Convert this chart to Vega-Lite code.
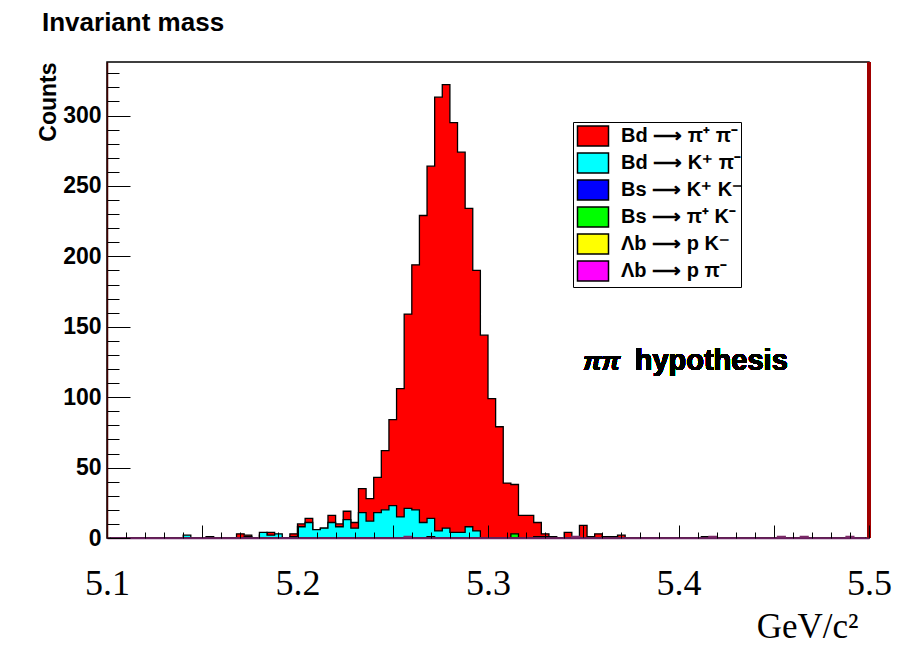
{
  "$schema": "https://vega.github.io/schema/vega-lite/v6.json",
  "width": 762,
  "height": 476,
  "autosize": "none",
  "padding": {"left": 107, "top": 62, "right": 44, "bottom": 107},
  "background": "white",
  "title": {"text": "Invariant mass", "anchor": "start", "frame": "group", "dx": -65, "offset": 4, "baseline": "alphabetic", "font": "Liberation Sans", "fontSize": 26, "fontWeight": "bold", "color": "black"},
  "config": {"view": {"stroke": "black", "strokeWidth": 1.5}},
  "resolve": {"axis": {"x": "independent", "y": "independent"}},
  "data": {"values": [
    {"m": 5.102, "bdpipi": 0, "bdkpi": 0, "bskk": 0, "bspik": 0, "lbpk": 0, "lbppi": 0},
    {"m": 5.106, "bdpipi": 0, "bdkpi": 0, "bskk": 0, "bspik": 0, "lbpk": 0, "lbppi": 0},
    {"m": 5.110, "bdpipi": 0, "bdkpi": 0, "bskk": 0, "bspik": 0, "lbpk": 0, "lbppi": 0},
    {"m": 5.114, "bdpipi": 0, "bdkpi": 0, "bskk": 0, "bspik": 0, "lbpk": 0, "lbppi": 0},
    {"m": 5.118, "bdpipi": 0, "bdkpi": 0, "bskk": 0, "bspik": 0, "lbpk": 0, "lbppi": 0},
    {"m": 5.122, "bdpipi": 0, "bdkpi": 0, "bskk": 0, "bspik": 0, "lbpk": 0, "lbppi": 0},
    {"m": 5.126, "bdpipi": 0, "bdkpi": 0, "bskk": 0, "bspik": 0, "lbpk": 0, "lbppi": 0},
    {"m": 5.130, "bdpipi": 0, "bdkpi": 0, "bskk": 0, "bspik": 0, "lbpk": 0, "lbppi": 0},
    {"m": 5.134, "bdpipi": 0, "bdkpi": 0, "bskk": 0, "bspik": 0, "lbpk": 0, "lbppi": 0},
    {"m": 5.138, "bdpipi": 0, "bdkpi": 0, "bskk": 0, "bspik": 0, "lbpk": 0, "lbppi": 0},
    {"m": 5.142, "bdpipi": 0, "bdkpi": 2, "bskk": 0, "bspik": 0, "lbpk": 0, "lbppi": 0},
    {"m": 5.146, "bdpipi": 0, "bdkpi": 0, "bskk": 0, "bspik": 0, "lbpk": 0, "lbppi": 0},
    {"m": 5.150, "bdpipi": 0, "bdkpi": 0, "bskk": 0, "bspik": 0, "lbpk": 0, "lbppi": 0},
    {"m": 5.154, "bdpipi": 0, "bdkpi": 0, "bskk": 1, "bspik": 0, "lbpk": 0, "lbppi": 0},
    {"m": 5.158, "bdpipi": 0, "bdkpi": 0, "bskk": 0, "bspik": 0, "lbpk": 0, "lbppi": 0},
    {"m": 5.162, "bdpipi": 0, "bdkpi": 0, "bskk": 0, "bspik": 0, "lbpk": 0, "lbppi": 0},
    {"m": 5.166, "bdpipi": 0, "bdkpi": 0, "bskk": 0, "bspik": 0, "lbpk": 0, "lbppi": 0},
    {"m": 5.170, "bdpipi": 3, "bdkpi": 0, "bskk": 0, "bspik": 0, "lbpk": 0, "lbppi": 0},
    {"m": 5.174, "bdpipi": 2, "bdkpi": 1, "bskk": 0, "bspik": 0, "lbpk": 0, "lbppi": 0},
    {"m": 5.178, "bdpipi": 0, "bdkpi": 0, "bskk": 0, "bspik": 0, "lbpk": 0, "lbppi": 0},
    {"m": 5.182, "bdpipi": 2, "bdkpi": 4, "bskk": 0, "bspik": 0, "lbpk": 0, "lbppi": 0},
    {"m": 5.186, "bdpipi": 4, "bdkpi": 2, "bskk": 0, "bspik": 0, "lbpk": 0, "lbppi": 0},
    {"m": 5.190, "bdpipi": 1, "bdkpi": 3, "bskk": 0, "bspik": 0, "lbpk": 0, "lbppi": 0},
    {"m": 5.194, "bdpipi": 0, "bdkpi": 0, "bskk": 0, "bspik": 0, "lbpk": 0, "lbppi": 0},
    {"m": 5.198, "bdpipi": 3, "bdkpi": 1, "bskk": 0, "bspik": 0, "lbpk": 0, "lbppi": 0},
    {"m": 5.202, "bdpipi": 10, "bdkpi": 8, "bskk": 0, "bspik": 0, "lbpk": 0, "lbppi": 0},
    {"m": 5.206, "bdpipi": 14, "bdkpi": 11, "bskk": 0, "bspik": 0, "lbpk": 0, "lbppi": 0},
    {"m": 5.210, "bdpipi": 6, "bdkpi": 6, "bskk": 0, "bspik": 0, "lbpk": 0, "lbppi": 0},
    {"m": 5.214, "bdpipi": 7, "bdkpi": 7, "bskk": 0, "bspik": 0, "lbpk": 0, "lbppi": 0},
    {"m": 5.218, "bdpipi": 16, "bdkpi": 11, "bskk": 0, "bspik": 0, "lbpk": 0, "lbppi": 0},
    {"m": 5.222, "bdpipi": 10, "bdkpi": 8, "bskk": 0, "bspik": 0, "lbpk": 0, "lbppi": 0},
    {"m": 5.226, "bdpipi": 19, "bdkpi": 13, "bskk": 0, "bspik": 0, "lbpk": 0, "lbppi": 0},
    {"m": 5.230, "bdpipi": 11, "bdkpi": 7, "bskk": 0, "bspik": 0, "lbpk": 0, "lbppi": 0},
    {"m": 5.234, "bdpipi": 35, "bdkpi": 18, "bskk": 0, "bspik": 0, "lbpk": 0, "lbppi": 0},
    {"m": 5.238, "bdpipi": 28, "bdkpi": 12, "bskk": 0, "bspik": 0, "lbpk": 0, "lbppi": 0},
    {"m": 5.242, "bdpipi": 43, "bdkpi": 18, "bskk": 0, "bspik": 0, "lbpk": 0, "lbppi": 0},
    {"m": 5.246, "bdpipi": 62, "bdkpi": 20, "bskk": 0, "bspik": 0, "lbpk": 0, "lbppi": 0},
    {"m": 5.250, "bdpipi": 84, "bdkpi": 23, "bskk": 0, "bspik": 0, "lbpk": 0, "lbppi": 0},
    {"m": 5.254, "bdpipi": 106, "bdkpi": 15, "bskk": 0, "bspik": 0, "lbpk": 0, "lbppi": 0},
    {"m": 5.258, "bdpipi": 159, "bdkpi": 21, "bskk": 0, "bspik": 0, "lbpk": 0, "lbppi": 1},
    {"m": 5.262, "bdpipi": 194, "bdkpi": 20, "bskk": 0, "bspik": 0, "lbpk": 0, "lbppi": 0},
    {"m": 5.266, "bdpipi": 229, "bdkpi": 11, "bskk": 0, "bspik": 0, "lbpk": 0, "lbppi": 0},
    {"m": 5.270, "bdpipi": 264, "bdkpi": 14, "bskk": 1, "bspik": 0, "lbpk": 0, "lbppi": 0},
    {"m": 5.274, "bdpipi": 313, "bdkpi": 5, "bskk": 0, "bspik": 0, "lbpk": 0, "lbppi": 0},
    {"m": 5.278, "bdpipi": 322, "bdkpi": 7, "bskk": 0, "bspik": 0, "lbpk": 0, "lbppi": 0},
    {"m": 5.282, "bdpipi": 295, "bdkpi": 4, "bskk": 0, "bspik": 0, "lbpk": 0, "lbppi": 0},
    {"m": 5.286, "bdpipi": 274, "bdkpi": 4, "bskk": 0, "bspik": 0, "lbpk": 0, "lbppi": 0},
    {"m": 5.290, "bdpipi": 234, "bdkpi": 8, "bskk": 0, "bspik": 0, "lbpk": 0, "lbppi": 0},
    {"m": 5.294, "bdpipi": 190, "bdkpi": 5, "bskk": 0, "bspik": 0, "lbpk": 0, "lbppi": 0},
    {"m": 5.298, "bdpipi": 144, "bdkpi": 0, "bskk": 0, "bspik": 0, "lbpk": 0, "lbppi": 0},
    {"m": 5.302, "bdpipi": 99, "bdkpi": 0, "bskk": 0, "bspik": 0, "lbpk": 0, "lbppi": 0},
    {"m": 5.306, "bdpipi": 79, "bdkpi": 0, "bskk": 0, "bspik": 0, "lbpk": 0, "lbppi": 0},
    {"m": 5.310, "bdpipi": 39, "bdkpi": 0, "bskk": 0, "bspik": 0, "lbpk": 0, "lbppi": 0},
    {"m": 5.314, "bdpipi": 38, "bdkpi": 0, "bskk": 0, "bspik": 3, "lbpk": 0, "lbppi": 0},
    {"m": 5.318, "bdpipi": 16, "bdkpi": 0, "bskk": 0, "bspik": 0, "lbpk": 0, "lbppi": 0},
    {"m": 5.322, "bdpipi": 16, "bdkpi": 0, "bskk": 0, "bspik": 0, "lbpk": 0, "lbppi": 0},
    {"m": 5.326, "bdpipi": 11, "bdkpi": 0, "bskk": 0, "bspik": 1, "lbpk": 0, "lbppi": 0},
    {"m": 5.330, "bdpipi": 3, "bdkpi": 1, "bskk": 0, "bspik": 0, "lbpk": 0, "lbppi": 0},
    {"m": 5.334, "bdpipi": 1, "bdkpi": 0, "bskk": 0, "bspik": 1, "lbpk": 0, "lbppi": 0},
    {"m": 5.338, "bdpipi": 0, "bdkpi": 0, "bskk": 0, "bspik": 0, "lbpk": 0, "lbppi": 0},
    {"m": 5.342, "bdpipi": 4, "bdkpi": 0, "bskk": 0, "bspik": 0, "lbpk": 0, "lbppi": 0},
    {"m": 5.346, "bdpipi": 0, "bdkpi": 0, "bskk": 0, "bspik": 0, "lbpk": 0, "lbppi": 1},
    {"m": 5.350, "bdpipi": 9, "bdkpi": 0, "bskk": 0, "bspik": 0, "lbpk": 0, "lbppi": 0},
    {"m": 5.354, "bdpipi": 1, "bdkpi": 0, "bskk": 0, "bspik": 0, "lbpk": 0, "lbppi": 0},
    {"m": 5.358, "bdpipi": 3, "bdkpi": 0, "bskk": 0, "bspik": 0, "lbpk": 0, "lbppi": 0},
    {"m": 5.362, "bdpipi": 0, "bdkpi": 0, "bskk": 0, "bspik": 1, "lbpk": 0, "lbppi": 0},
    {"m": 5.366, "bdpipi": 0, "bdkpi": 0, "bskk": 0, "bspik": 1, "lbpk": 0, "lbppi": 0},
    {"m": 5.370, "bdpipi": 2, "bdkpi": 0, "bskk": 0, "bspik": 0, "lbpk": 0, "lbppi": 0},
    {"m": 5.374, "bdpipi": 0, "bdkpi": 0, "bskk": 0, "bspik": 0, "lbpk": 0, "lbppi": 0},
    {"m": 5.378, "bdpipi": 0, "bdkpi": 0, "bskk": 0, "bspik": 0, "lbpk": 0, "lbppi": 0},
    {"m": 5.382, "bdpipi": 0, "bdkpi": 0, "bskk": 0, "bspik": 0, "lbpk": 0, "lbppi": 0},
    {"m": 5.386, "bdpipi": 0, "bdkpi": 0, "bskk": 0, "bspik": 0, "lbpk": 0, "lbppi": 0},
    {"m": 5.390, "bdpipi": 0, "bdkpi": 0, "bskk": 0, "bspik": 0, "lbpk": 0, "lbppi": 0},
    {"m": 5.394, "bdpipi": 0, "bdkpi": 0, "bskk": 0, "bspik": 0, "lbpk": 0, "lbppi": 0},
    {"m": 5.398, "bdpipi": 0, "bdkpi": 0, "bskk": 0, "bspik": 0, "lbpk": 0, "lbppi": 0},
    {"m": 5.402, "bdpipi": 0, "bdkpi": 0, "bskk": 0, "bspik": 0, "lbpk": 0, "lbppi": 0},
    {"m": 5.406, "bdpipi": 0, "bdkpi": 0, "bskk": 0, "bspik": 0, "lbpk": 0, "lbppi": 0},
    {"m": 5.410, "bdpipi": 0, "bdkpi": 0, "bskk": 0, "bspik": 0, "lbpk": 0, "lbppi": 0},
    {"m": 5.414, "bdpipi": 0, "bdkpi": 0, "bskk": 1, "bspik": 0, "lbpk": 0, "lbppi": 0},
    {"m": 5.418, "bdpipi": 0, "bdkpi": 0, "bskk": 0, "bspik": 0, "lbpk": 0, "lbppi": 1},
    {"m": 5.422, "bdpipi": 0, "bdkpi": 0, "bskk": 0, "bspik": 0, "lbpk": 0, "lbppi": 0},
    {"m": 5.426, "bdpipi": 0, "bdkpi": 0, "bskk": 0, "bspik": 0, "lbpk": 0, "lbppi": 0},
    {"m": 5.430, "bdpipi": 0, "bdkpi": 0, "bskk": 0, "bspik": 0, "lbpk": 0, "lbppi": 0},
    {"m": 5.434, "bdpipi": 0, "bdkpi": 0, "bskk": 0, "bspik": 0, "lbpk": 0, "lbppi": 0},
    {"m": 5.438, "bdpipi": 0, "bdkpi": 0, "bskk": 0, "bspik": 0, "lbpk": 0, "lbppi": 0},
    {"m": 5.442, "bdpipi": 0, "bdkpi": 0, "bskk": 0, "bspik": 0, "lbpk": 0, "lbppi": 0},
    {"m": 5.446, "bdpipi": 0, "bdkpi": 0, "bskk": 0, "bspik": 0, "lbpk": 0, "lbppi": 0},
    {"m": 5.450, "bdpipi": 0, "bdkpi": 0, "bskk": 0, "bspik": 0, "lbpk": 0, "lbppi": 0},
    {"m": 5.454, "bdpipi": 0, "bdkpi": 0, "bskk": 0, "bspik": 0, "lbpk": 0, "lbppi": 1},
    {"m": 5.458, "bdpipi": 0, "bdkpi": 0, "bskk": 0, "bspik": 0, "lbpk": 0, "lbppi": 0},
    {"m": 5.462, "bdpipi": 0, "bdkpi": 0, "bskk": 0, "bspik": 0, "lbpk": 0, "lbppi": 0},
    {"m": 5.466, "bdpipi": 0, "bdkpi": 0, "bskk": 0, "bspik": 0, "lbpk": 0, "lbppi": 1},
    {"m": 5.470, "bdpipi": 0, "bdkpi": 0, "bskk": 0, "bspik": 0, "lbpk": 0, "lbppi": 0},
    {"m": 5.474, "bdpipi": 0, "bdkpi": 0, "bskk": 0, "bspik": 0, "lbpk": 0, "lbppi": 0},
    {"m": 5.478, "bdpipi": 0, "bdkpi": 0, "bskk": 0, "bspik": 0, "lbpk": 0, "lbppi": 0},
    {"m": 5.482, "bdpipi": 0, "bdkpi": 0, "bskk": 0, "bspik": 0, "lbpk": 0, "lbppi": 0},
    {"m": 5.486, "bdpipi": 0, "bdkpi": 0, "bskk": 0, "bspik": 0, "lbpk": 0, "lbppi": 0},
    {"m": 5.490, "bdpipi": 0, "bdkpi": 0, "bskk": 0, "bspik": 0, "lbpk": 0, "lbppi": 1},
    {"m": 5.494, "bdpipi": 0, "bdkpi": 0, "bskk": 0, "bspik": 0, "lbpk": 0, "lbppi": 0},
    {"m": 5.498, "bdpipi": 0, "bdkpi": 0, "bskk": 0, "bspik": 0, "lbpk": 0, "lbppi": 0}
  ]},
  "layer": [
    {
      "mark": {"type": "area", "interpolate": "step", "stroke": "black", "strokeWidth": 1.3, "opacity": 1},
      "encoding": {
        "x": {
          "field": "m", "type": "quantitative",
          "scale": {"domain": [5.1, 5.5], "nice": false, "zero": false},
          "axis": {
            "orient": "bottom",
            "values": [5.1, 5.15, 5.2, 5.25, 5.3, 5.35, 5.4, 5.45, 5.5],
            "labelExpr": "abs(datum.value*10 - round(datum.value*10)) < 0.001 ? format(datum.value, '.1f') : ''",
            "tickSize": -13, "tickColor": "black", "tickWidth": 1,
            "domainColor": "#6a2060", "domainWidth": 1.5,
            "labelFont": "Liberation Serif", "labelFontSize": 36, "labelColor": "black", "labelBaseline": "alphabetic", "labelPadding": 69,
            "labelFlush": false, "labelOverlap": false, "labelBound": false,
            "grid": false, "zindex": 1,
            "title": "GeV/c²", "titleFont": "Liberation Serif", "titleFontSize": 35, "titleFontWeight": "normal", "titleColor": "black",
            "titleAnchor": "end", "titleAlign": "right", "titleBaseline": "alphabetic", "titleX": 751, "titleY": 99
          }
        },
        "y": {
          "field": "bdpipi", "type": "quantitative",
          "scale": {"domain": [0, 338], "nice": false},
          "axis": {
            "orient": "left",
            "values": [0, 50, 100, 150, 200, 250, 300],
            "tickSize": -23, "tickColor": "black", "tickWidth": 1,
            "domainColor": "#400000", "domainWidth": 1.5,
            "labelFont": "Liberation Sans", "labelFontSize": 23, "labelFontWeight": "bold", "labelColor": "black", "labelPadding": 29, "labelBaseline": "middle",
            "labelOverlap": false, "labelFlush": false, "labelBound": false,
            "grid": false, "zindex": 1,
            "title": "Counts", "titleFont": "Liberation Sans", "titleFontSize": 23, "titleFontWeight": "bold", "titleColor": "black",
            "titleAngle": -90, "titleAlign": "right", "titleBaseline": "alphabetic", "titleX": -52, "titleY": 0
          }
        },
        "color": {
          "datum": "Bd ⟶ π⁺ π⁻",
          "scale": {
            "domain": ["Bd ⟶ π⁺ π⁻", "Bd ⟶ K⁺ π⁻", "Bs ⟶ K⁺ K⁻", "Bs ⟶ π⁺ K⁻", "Λb ⟶ p K⁻", "Λb ⟶ p π⁻"],
            "range": ["#ff0000", "#00ffff", "#0000ff", "#00ff00", "#ffff00", "#ff00ff"]
          },
          "legend": {
            "title": null, "orient": "none", "legendX": 466, "legendY": 60, "direction": "vertical",
            "symbolType": "M-1.55,-1H1.55V1H-1.55Z", "symbolSize": 400, "symbolOffset": 6, "symbolStrokeColor": "black", "symbolStrokeWidth": 1.5, "symbolOpacity": 1,
            "labelFont": "Liberation Sans", "labelFontSize": 20, "labelFontWeight": "bold", "labelColor": "black", "labelOffset": 17, "labelLimit": 300,
            "rowPadding": 1, "padding": 3, "strokeColor": "black", "fillColor": "white"
          }
        }
      }
    },
    {
      "mark": {"type": "area", "interpolate": "step", "stroke": "black", "strokeWidth": 1.3, "opacity": 1},
      "encoding": {
        "x": {
          "field": "m", "type": "quantitative",
          "axis": {
            "orient": "bottom",
            "values": [5.11, 5.12, 5.13, 5.14, 5.16, 5.17, 5.18, 5.19, 5.21, 5.22, 5.23, 5.24, 5.26, 5.27, 5.28, 5.29, 5.31, 5.32, 5.33, 5.34, 5.36, 5.37, 5.38, 5.39, 5.41, 5.42, 5.43, 5.44, 5.46, 5.47, 5.48, 5.49],
            "tickSize": -6, "tickColor": "black", "tickWidth": 1,
            "labels": false, "domain": false, "grid": false, "zindex": 1, "title": null
          }
        },
        "y": {
          "field": "bdkpi", "type": "quantitative",
          "axis": {
            "orient": "left",
            "values": [10, 20, 30, 40, 60, 70, 80, 90, 110, 120, 130, 140, 160, 170, 180, 190, 210, 220, 230, 240, 260, 270, 280, 290, 310, 320, 330],
            "tickSize": -12, "tickColor": "black", "tickWidth": 1,
            "labels": false, "domain": false, "grid": false, "zindex": 1, "title": null
          }
        },
        "color": {"datum": "Bd ⟶ K⁺ π⁻"}
      }
    },
    {
      "mark": {"type": "area", "interpolate": "step", "stroke": "black", "strokeWidth": 1.3, "opacity": 1},
      "encoding": {"x": {"field": "m", "type": "quantitative", "axis": null}, "y": {"field": "bskk", "type": "quantitative", "axis": null}, "color": {"datum": "Bs ⟶ K⁺ K⁻"}}
    },
    {
      "mark": {"type": "area", "interpolate": "step", "stroke": "black", "strokeWidth": 1.3, "opacity": 1},
      "encoding": {"x": {"field": "m", "type": "quantitative", "axis": null}, "y": {"field": "bspik", "type": "quantitative", "axis": null}, "color": {"datum": "Bs ⟶ π⁺ K⁻"}}
    },
    {
      "mark": {"type": "area", "interpolate": "step", "stroke": "black", "strokeWidth": 1.3, "opacity": 1},
      "encoding": {"x": {"field": "m", "type": "quantitative", "axis": null}, "y": {"field": "lbpk", "type": "quantitative", "axis": null}, "color": {"datum": "Λb ⟶ p K⁻"}}
    },
    {
      "mark": {"type": "area", "interpolate": "step", "stroke": "#7a2a66", "strokeWidth": 1.5, "opacity": 1},
      "encoding": {"x": {"field": "m", "type": "quantitative", "axis": null}, "y": {"field": "lbppi", "type": "quantitative", "axis": null}, "color": {"datum": "Λb ⟶ p π⁻"}}
    },
    {
      "mark": {"type": "rule", "color": "#a00000", "strokeWidth": 2.5},
      "encoding": {"x": {"datum": 5.5, "type": "quantitative", "axis": null}}
    },
    {
      "mark": {"type": "text", "text": "ππ", "font": "Liberation Sans", "fontSize": 26, "fontWeight": "bold", "fontStyle": "italic", "align": "left", "baseline": "alphabetic", "color": "black"},
      "encoding": {"x": {"datum": 5.35, "type": "quantitative", "axis": null}, "y": {"datum": 119, "type": "quantitative", "axis": null}}
    },
    {
      "mark": {"type": "text", "text": "hypothesis", "font": "Liberation Sans", "fontSize": 29, "fontWeight": "bold", "align": "left", "baseline": "alphabetic", "color": "black"},
      "encoding": {"x": {"datum": 5.377, "type": "quantitative", "axis": null}, "y": {"datum": 119, "type": "quantitative", "axis": null}}
    }
  ]
}
